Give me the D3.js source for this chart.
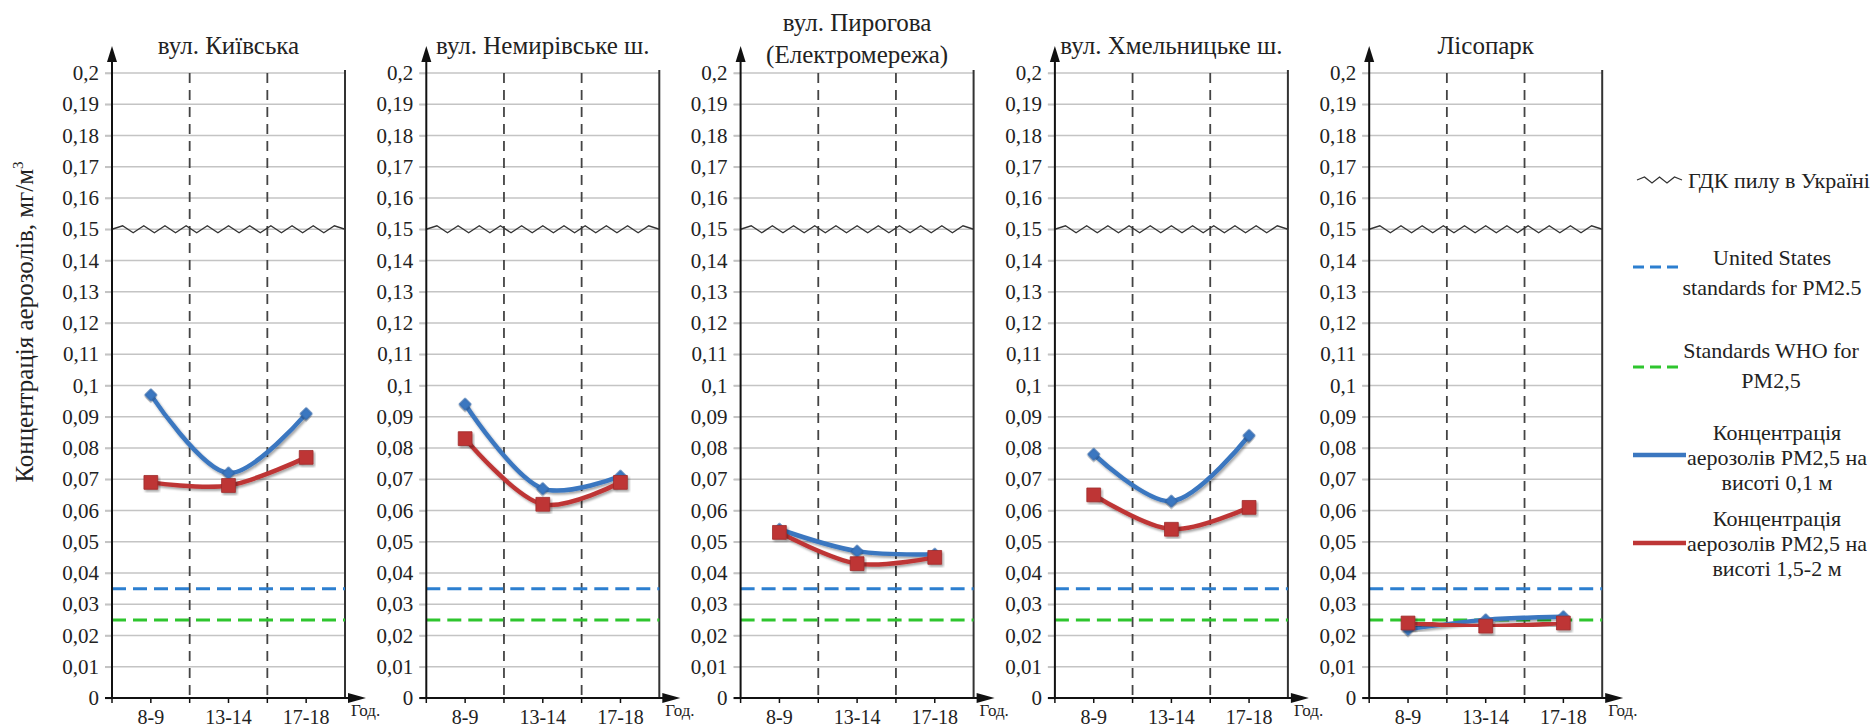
<!DOCTYPE html>
<html>
<head>
<meta charset="utf-8">
<script src="https://cdn.jsdelivr.net/npm/d3@7"></script>
<style>
  body { margin: 0; background: #fff; }
  svg, svg text { font-family: "Liberation Serif", "Times New Roman", "DejaVu Serif", serif !important; }
  svg { display: block; }
</style>
</head>
<body>
<svg id="chart" width="1872" height="727"></svg>
<script>
// дані
const hours = ["8-9", "13-14", "17-18"];
const sites = [
    ["вул. Київська"],
    ["вул. Немирівське ш."],
    ["вул. Пирогова", "(Електромережа)"],
    ["вул. Хмельницьке ш."],
    ["Лісопарк"]
];
// концентрація на висоті 0,1 м
const pmLow = [
    [0.097, 0.072, 0.091],
    [0.094, 0.067, 0.071],
    [0.054, 0.047, 0.046],
    [0.078, 0.063, 0.084],
    [0.022, 0.025, 0.026]
];
// концентрація на висоті 1,5-2 м
const pmHigh = [
    [0.069, 0.068, 0.077],
    [0.083, 0.062, 0.069],
    [0.053, 0.043, 0.045],
    [0.065, 0.054, 0.061],
    [0.024, 0.023, 0.024]
];
const limitUkraine = 0.15;
const limitUS = 0.035;
const limitWHO = 0.025;
const yMax = 0.2;

const legendLabels = [
    ["ГДК пилу в Україні"],
    ["United States", "standards for PM2.5"],
    ["Standards WHO for", "PM2,5"],
    ["Концентрація", "аерозолів PM2,5 на", "висоті 0,1 м"],
    ["Концентрація", "аерозолів PM2,5 на", "висоті 1,5-2 м"]
];

const colors = {
    blue: "#3b77c0",
    red: "#be3636",
    us: "#2c7fd0",
    who: "#2ec52e",
    grid: "#c4c4c4"
};

const svg = d3.select("#chart");
const attr_area = { top: 73, bottom: 698, plotW: 233, firstX: 112, stepX: 314.3 };

const defs = svg.append("defs");
defs.append("filter")
    .attr("id", "shadow")
    .attr("x", "-20%").attr("y", "-20%").attr("width", "140%").attr("height", "140%")
    .append("feDropShadow")
    .attr("dx", 1.5).attr("dy", 2)
    .attr("stdDeviation", 1.3)
    .attr("flood-color", "#000")
    .attr("flood-opacity", 0.35);

const scaleY = d3.scaleLinear().domain([0, yMax]).range([attr_area.bottom, attr_area.top]);
const fmt = d => d === 0 ? "0" : String(+d.toFixed(2)).replace(".", ",");

function zigzag(x0, x1, y, step, amp) {
    const n = Math.max(2, Math.round((x1 - x0) / step));
    const pts = [];
    for (let k = 0; k <= n; k++) {
        const x = x0 + (x1 - x0) * k / n;
        let dy = 0;
        if (k > 0 && k < n) dy = (k % 2 === 1) ? -amp : amp;
        pts.push([x, y + dy]);
    }
    return d3.line()(pts);
}

function drawPanel(i) {
    const x0 = attr_area.firstX + i * attr_area.stepX;
    const w = attr_area.plotW;
    const g = svg.append("g").attr("transform", `translate(${x0},0)`);
    const scaleX = d3.scaleBand().domain(hours).range([0, w]);
    const cx = h => scaleX(h) + scaleX.bandwidth() / 2;
    const ticks = scaleY.ticks(20);

    // сітка
    g.selectAll(".grid")
        .data(ticks)
        .enter().append("line")
        .attr("x1", -7).attr("x2", w)
        .attr("y1", d => scaleY(d)).attr("y2", d => scaleY(d))
        .attr("stroke", colors.grid)
        .attr("stroke-width", 1.6);

    // підписи осі Y
    const axisY = d3.axisLeft(scaleY).tickValues(ticks).tickFormat(fmt).tickSize(7).tickPadding(6);
    const ay = g.append("g").call(axisY).attr("font-family", null);
    ay.select(".domain").remove();
    ay.selectAll("line").attr("stroke", colors.grid).attr("stroke-width", 1.6);
    ay.selectAll("text")
        .attr("font-size", 21)
        .attr("fill", "#222");

    // вертикальні пунктири
    hours.slice(1).forEach(h => {
        g.append("line")
            .attr("x1", scaleX(h)).attr("x2", scaleX(h))
            .attr("y1", attr_area.top).attr("y2", attr_area.bottom)
            .attr("stroke", "#444")
            .attr("stroke-width", 1.8)
            .attr("stroke-dasharray", "10,7");
    });

    // права рамка
    g.append("line")
        .attr("x1", w).attr("x2", w)
        .attr("y1", attr_area.top - 3).attr("y2", attr_area.bottom)
        .attr("stroke", "#333")
        .attr("stroke-width", 2);

    // нормативи
    g.append("line")
        .attr("x1", 0).attr("x2", w)
        .attr("y1", scaleY(limitUS)).attr("y2", scaleY(limitUS))
        .attr("stroke", colors.us).attr("stroke-width", 3)
        .attr("stroke-dasharray", "14,7");
    g.append("line")
        .attr("x1", 0).attr("x2", w)
        .attr("y1", scaleY(limitWHO)).attr("y2", scaleY(limitWHO))
        .attr("stroke", colors.who).attr("stroke-width", 3)
        .attr("stroke-dasharray", "14,7");
    g.append("path")
        .attr("d", zigzag(0, w, scaleY(limitUkraine), 10.8, 3.5))
        .attr("fill", "none")
        .attr("stroke", "#333")
        .attr("stroke-width", 1.4);

    // серії
    const series = [
        { values: pmLow[i], color: colors.blue, marker: "diamond" },
        { values: pmHigh[i], color: colors.red, marker: "square" }
    ];
    const lineGen = d3.line()
        .x((d, j) => cx(hours[j]))
        .y(d => scaleY(d))
        .curve(d3.curveCatmullRom);

    series.forEach(s => {
        g.append("path")
            .datum(s.values)
            .attr("d", lineGen)
            .attr("fill", "none")
            .attr("stroke", s.color)
            .attr("stroke-width", 4.5)
            .attr("filter", "url(#shadow)");
    });
    series.forEach(s => {
        s.values.forEach((v, j) => {
            if (s.marker === "diamond") {
                g.append("path")
                    .attr("d", d3.symbol(d3.symbolSquare, 72)())
                    .attr("transform", `translate(${cx(hours[j])},${scaleY(v)}) rotate(45)`)
                    .attr("fill", s.color)
                    .attr("stroke", "#2f62a3")
                    .attr("stroke-width", 0.8)
                    .attr("filter", "url(#shadow)");
            } else {
                g.append("path")
                    .attr("d", d3.symbol(d3.symbolSquare, 190)())
                    .attr("transform", `translate(${cx(hours[j])},${scaleY(v)})`)
                    .attr("fill", s.color)
                    .attr("stroke", "#9e2b2b")
                    .attr("stroke-width", 0.8)
                    .attr("filter", "url(#shadow)");
            }
        });
    });

    // вісь Y зі стрілкою
    g.append("line")
        .attr("x1", 0).attr("x2", 0)
        .attr("y1", attr_area.bottom + 1).attr("y2", 60)
        .attr("stroke", "#111").attr("stroke-width", 2);
    g.append("path")
        .attr("d", `M-5,62 L0,46 L5,62 Z`)
        .attr("fill", "#111");

    // вісь X зі стрілкою
    g.append("line")
        .attr("x1", -7).attr("x2", w + 6)
        .attr("y1", attr_area.bottom).attr("y2", attr_area.bottom)
        .attr("stroke", "#111").attr("stroke-width", 2);
    g.append("path")
        .attr("d", `M${w + 3},${attr_area.bottom - 5} L${w + 21},${attr_area.bottom} L${w + 3},${attr_area.bottom + 5} Z`)
        .attr("fill", "#111");
    const xMarks = hours.map(h => scaleX(h)).concat(hours.map(cx));
    g.selectAll(".xmark")
        .data(xMarks)
        .enter().append("line")
        .attr("x1", d => d).attr("x2", d => d)
        .attr("y1", attr_area.bottom).attr("y2", attr_area.bottom + 5)
        .attr("stroke", "#111").attr("stroke-width", 1.5);

    g.selectAll(".xlabel")
        .data(hours)
        .enter().append("text")
        .attr("x", d => cx(d))
        .attr("y", 724)
        .attr("text-anchor", "middle")
        .attr("font-size", 20)
        .attr("fill", "#222")
        .text(d => d);
    g.append("text")
        .attr("x", w + 6)
        .attr("y", 716)
        .attr("font-size", 17)
        .attr("fill", "#222")
        .text("Год.");

    // заголовок
    const title = sites[i];
    const titleY = title.length > 1 ? 31 : 54;
    title.forEach((t, k) => {
        g.append("text")
            .attr("x", w / 2)
            .attr("y", titleY + k * 32)
            .attr("text-anchor", "middle")
            .attr("font-size", 25)
            .attr("fill", "#222")
            .text(t);
    });
}

sites.forEach((s, i) => drawPanel(i));

// підпис осі Y
const yTitle = svg.append("text")
    .attr("transform", "translate(33,322) rotate(-90)")
    .attr("text-anchor", "middle")
    .attr("font-size", 25)
    .attr("fill", "#222");
yTitle.append("tspan").text("Концентрація аерозолів, мг/м");
yTitle.append("tspan").attr("dy", -10).attr("font-size", 15).text("3");

// легенда
const legendLayout = [
    { sampleY: 180, textY: 180, gap: 0, anchor: "start", tx: 1688 },
    { sampleY: 267, textY: 257, gap: 30, anchor: "middle", tx: 1772 },
    { sampleY: 367, textY: 350, gap: 30, anchor: "middle", tx: 1771 },
    { sampleY: 455, textY: 432, gap: 25, anchor: "middle", tx: 1777 },
    { sampleY: 543, textY: 518, gap: 25, anchor: "middle", tx: 1777 }
];
const legendSamples = ["zigzag", colors.us, colors.who, colors.blue, colors.red];
const lg = svg.append("g");
legendLabels.forEach((lines, k) => {
    const L = legendLayout[k];
    const sample = legendSamples[k];
    if (k === 0) {
        lg.append("path")
            .attr("d", zigzag(1637, 1682, L.sampleY, 7.5, 3))
            .attr("fill", "none").attr("stroke", "#333").attr("stroke-width", 1.3);
    } else if (k < 3) {
        lg.append("line")
            .attr("x1", 1633).attr("x2", 1683)
            .attr("y1", L.sampleY).attr("y2", L.sampleY)
            .attr("stroke", sample).attr("stroke-width", 3)
            .attr("stroke-dasharray", "11,6");
    } else {
        lg.append("line")
            .attr("x1", 1633).attr("x2", 1686)
            .attr("y1", L.sampleY).attr("y2", L.sampleY)
            .attr("stroke", sample).attr("stroke-width", 4.5);
    }
    lines.forEach((t, j) => {
        lg.append("text")
            .attr("x", L.tx)
            .attr("y", L.textY + j * L.gap)
            .attr("dy", "0.35em")
            .attr("text-anchor", L.anchor)
            .attr("font-size", 22)
            .attr("fill", "#222")
            .text(t);
    });
});
</script>
</body>
</html>
